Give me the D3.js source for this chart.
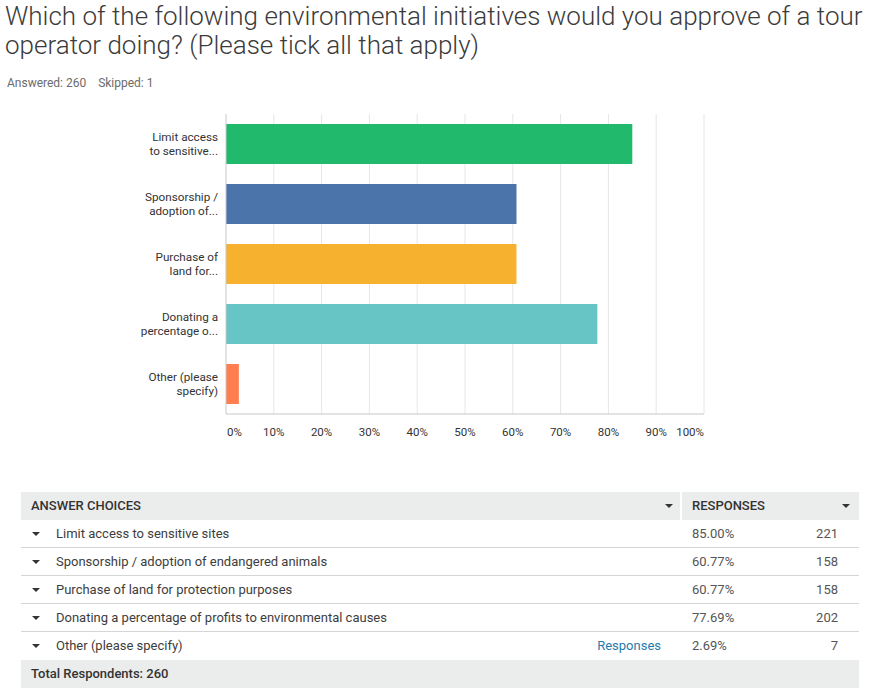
<!DOCTYPE html>
<html>
<head>
<meta charset="utf-8">
<script src="https://cdn.jsdelivr.net/npm/d3@7"></script>
<style>
  body { margin: 0; background: #fff; }
  svg text { font-family: Roboto, "Open Sans", sans-serif; }
</style>
</head>
<body>
<svg id="chart" width="873" height="697"></svg>
<script>
// Survey data
const shortLabels = [
    ["Limit access", "to sensitive..."],
    ["Sponsorship /", "adoption of..."],
    ["Purchase of", "land for..."],
    ["Donating a", "percentage o..."],
    ["Other (please", "specify)"]
];
const fullLabels = [
    "Limit access to sensitive sites",
    "Sponsorship / adoption of endangered animals",
    "Purchase of land for protection purposes",
    "Donating a percentage of profits to environmental causes",
    "Other (please specify)"
];
const percentages = [85.00, 60.77, 60.77, 77.69, 2.69];
const counts = [221, 158, 158, 202, 7];
const barColors = ["#21ba6d", "#4a74aa", "#f6b22f", "#67c5c6", "#ff7e4f"];
const xTicks = [0, 10, 20, 30, 40, 50, 60, 70, 80, 90, 100];

const svg = d3.select("#chart");

// Title and meta
const titleLines = [
    "Which of the following environmental initiatives would you approve of a tour",
    "operator doing? (Please tick all that apply)"
];
svg.append("g").selectAll("text")
    .data(titleLines)
    .join("text")
    .attr("x", 5)
    .attr("y", (d, i) => 25 + i * 29)
    .attr("font-size", 26)
    .attr("font-weight", 300)
    .attr("fill", "#3b3b3b")
    .text(d => d);

svg.append("text")
    .attr("x", 7).attr("y", 87)
    .attr("font-size", 12).attr("fill", "#6b6b6b")
    .text("Answered: 260\u00a0\u00a0\u00a0\u00a0Skipped: 1");

// Bar chart
const plot = { left: 226, right: 704, top: 114, bottom: 414 };

const x = d3.scaleLinear().domain([0, 100]).range([plot.left, plot.right]);
const y = d3.scaleBand()
    .domain(d3.range(percentages.length))
    .range([plot.top, plot.bottom])
    .paddingInner(1 / 3)
    .paddingOuter(1 / 6);

const chart = svg.append("g");

chart.append("g").selectAll("line")
    .data(xTicks.slice(1))
    .join("line")
    .attr("x1", d => x(d)).attr("x2", d => x(d))
    .attr("y1", plot.top).attr("y2", plot.bottom)
    .attr("stroke", "#e6e6e6");

chart.append("g").selectAll("rect")
    .data(percentages)
    .join("rect")
    .attr("x", x(0))
    .attr("y", (d, i) => y(i))
    .attr("width", d => x(d) - x(0))
    .attr("height", y.bandwidth())
    .attr("fill", (d, i) => barColors[i]);

chart.append("line")
    .attr("x1", plot.left).attr("x2", plot.left)
    .attr("y1", plot.top).attr("y2", plot.bottom)
    .attr("stroke", "#c8c8c8");
chart.append("line")
    .attr("x1", plot.left).attr("x2", plot.right)
    .attr("y1", plot.bottom).attr("y2", plot.bottom)
    .attr("stroke", "#c8c8c8");

// category labels (two lines each)
chart.append("g").selectAll("text")
    .data(shortLabels)
    .join("text")
    .attr("text-anchor", "end")
    .attr("font-size", 11.7)
    .attr("fill", "#333")
    .each(function (d, i) {
        const cy = y(i) + y.bandwidth() / 2;
        d3.select(this).selectAll("tspan")
            .data(d)
            .join("tspan")
            .attr("x", 218)
            .attr("y", (t, j) => cy - 3 + j * 14)
            .text(t => t);
    });

// x tick labels
chart.append("g").selectAll("text")
    .data(xTicks)
    .join("text")
    .attr("x", d => d === 0 ? x(d) + 1 : x(d))
    .attr("y", 436)
    .attr("text-anchor", d => d === 0 ? "start" : (d === 100 ? "end" : "middle"))
    .attr("font-size", 11.5)
    .attr("fill", "#333")
    .text(d => d + "%");

// Table
const tbl = { left: 21, right: 859, sep: 681, top: 492, rowH: 28 };
const table = svg.append("g");

function triangle(g, cx, cy) {
    g.append("path")
        .attr("d", `M${cx - 4},${cy - 2}L${cx + 4},${cy - 2}L${cx},${cy + 2}Z`)
        .attr("fill", "#333");
}

// header
table.append("rect")
    .attr("x", tbl.left).attr("y", tbl.top)
    .attr("width", tbl.right - tbl.left).attr("height", tbl.rowH)
    .attr("fill", "#ebecec");
table.append("line")
    .attr("x1", tbl.sep).attr("x2", tbl.sep)
    .attr("y1", tbl.top).attr("y2", tbl.top + tbl.rowH)
    .attr("stroke", "#fff").attr("stroke-width", 2);
table.append("text")
    .attr("x", 31).attr("y", tbl.top + 18)
    .attr("font-size", 13).attr("font-weight", 500).attr("fill", "#333")
    .text("ANSWER CHOICES");
table.append("text")
    .attr("x", 692).attr("y", tbl.top + 18)
    .attr("font-size", 13).attr("font-weight", 500).attr("fill", "#333")
    .text("RESPONSES");
triangle(table, 669, tbl.top + 14);
triangle(table, 846, tbl.top + 14);

// rows
const rows = table.append("g").selectAll("g")
    .data(fullLabels)
    .join("g")
    .attr("transform", (d, i) => `translate(0,${tbl.top + tbl.rowH * (i + 1)})`);

rows.append("line")
    .attr("x1", tbl.left).attr("x2", tbl.right)
    .attr("y1", tbl.rowH - 0.5).attr("y2", tbl.rowH - 0.5)
    .attr("stroke", (d, i) => i === fullLabels.length - 1 ? "none" : "#d5d5d5");

rows.each(function () { triangle(d3.select(this), 36, 14); });

rows.append("text")
    .attr("x", 56).attr("y", 18)
    .attr("font-size", 13).attr("fill", "#3d3d3d")
    .text(d => d);

rows.append("text")
    .attr("x", 692).attr("y", 18)
    .attr("font-size", 13).attr("fill", "#555")
    .text((d, i) => percentages[i].toFixed(2) + "%");

rows.append("text")
    .attr("x", 838).attr("y", 18)
    .attr("text-anchor", "end")
    .attr("font-size", 13).attr("fill", "#555")
    .text((d, i) => counts[i]);

rows.filter((d, i) => i === fullLabels.length - 1)
    .append("text")
    .attr("x", 661).attr("y", 18)
    .attr("text-anchor", "end")
    .attr("font-size", 13).attr("fill", "#1f7bab")
    .text("Responses");

// footer
const footY = tbl.top + tbl.rowH * (fullLabels.length + 1);
table.append("rect")
    .attr("x", tbl.left).attr("y", footY)
    .attr("width", tbl.right - tbl.left).attr("height", tbl.rowH)
    .attr("fill", "#ebecec");
table.append("text")
    .attr("x", 31).attr("y", footY + 18)
    .attr("font-size", 13).attr("font-weight", 500).attr("fill", "#333")
    .text("Total Respondents: 260");
</script>
</body>
</html>
